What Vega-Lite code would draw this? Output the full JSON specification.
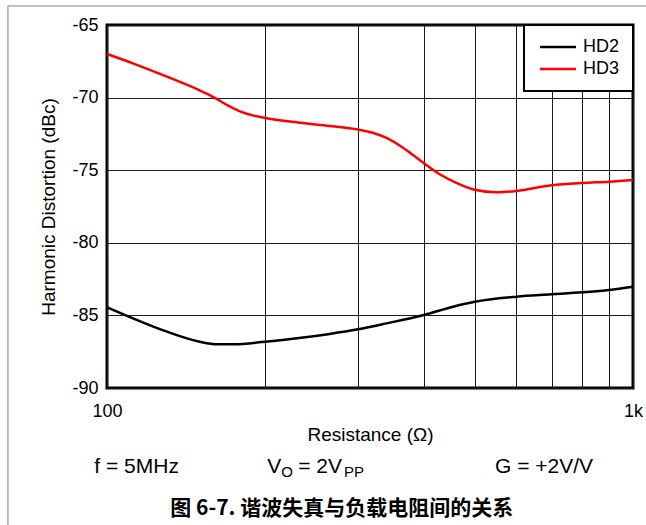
{
  "$schema": "https://vega.github.io/schema/vega-lite/v6.json",
  "width": 526,
  "height": 363,
  "autosize": {"type": "none"},
  "padding": {"left": 107, "top": 25, "right": 13, "bottom": 137},
  "background": "#ffffff",
  "config": {
    "font": "Liberation Sans",
    "view": {"stroke": "#000000", "strokeWidth": 3},
    "axis": {"labelColor": "#000000", "titleColor": "#000000", "titleFontWeight": "normal", "domain": false, "ticks": false, "tickSize": 0, "gridColor": "#1a1a1a", "gridWidth": 1, "gridOpacity": 1},
    "legend": {"strokeWidth": 2}
  },
  "layer": [
    {
      "data": {"values": [
        {"R": 100, "dB": -84.44, "s": "HD2"},
        {"R": 112, "dB": -85.2, "s": "HD2"},
        {"R": 130, "dB": -86.12, "s": "HD2"},
        {"R": 150, "dB": -86.81, "s": "HD2"},
        {"R": 162, "dB": -86.99, "s": "HD2"},
        {"R": 174, "dB": -86.99, "s": "HD2"},
        {"R": 200, "dB": -86.81, "s": "HD2"},
        {"R": 265, "dB": -86.28, "s": "HD2"},
        {"R": 300, "dB": -85.96, "s": "HD2"},
        {"R": 340, "dB": -85.55, "s": "HD2"},
        {"R": 400, "dB": -84.97, "s": "HD2"},
        {"R": 455, "dB": -84.4, "s": "HD2"},
        {"R": 500, "dB": -84.06, "s": "HD2"},
        {"R": 600, "dB": -83.71, "s": "HD2"},
        {"R": 700, "dB": -83.55, "s": "HD2"},
        {"R": 800, "dB": -83.41, "s": "HD2"},
        {"R": 900, "dB": -83.25, "s": "HD2"},
        {"R": 1000, "dB": -83.02, "s": "HD2"},
        {"R": 100, "dB": -67.0, "s": "HD3"},
        {"R": 112, "dB": -67.64, "s": "HD3"},
        {"R": 130, "dB": -68.56, "s": "HD3"},
        {"R": 150, "dB": -69.5, "s": "HD3"},
        {"R": 160, "dB": -70.0, "s": "HD3"},
        {"R": 170, "dB": -70.55, "s": "HD3"},
        {"R": 180, "dB": -70.98, "s": "HD3"},
        {"R": 190, "dB": -71.24, "s": "HD3"},
        {"R": 200, "dB": -71.4, "s": "HD3"},
        {"R": 233, "dB": -71.73, "s": "HD3"},
        {"R": 265, "dB": -71.95, "s": "HD3"},
        {"R": 300, "dB": -72.2, "s": "HD3"},
        {"R": 320, "dB": -72.42, "s": "HD3"},
        {"R": 340, "dB": -72.78, "s": "HD3"},
        {"R": 360, "dB": -73.3, "s": "HD3"},
        {"R": 380, "dB": -73.9, "s": "HD3"},
        {"R": 400, "dB": -74.5, "s": "HD3"},
        {"R": 430, "dB": -75.3, "s": "HD3"},
        {"R": 460, "dB": -75.85, "s": "HD3"},
        {"R": 500, "dB": -76.35, "s": "HD3"},
        {"R": 550, "dB": -76.52, "s": "HD3"},
        {"R": 600, "dB": -76.43, "s": "HD3"},
        {"R": 700, "dB": -76.04, "s": "HD3"},
        {"R": 800, "dB": -75.88, "s": "HD3"},
        {"R": 900, "dB": -75.79, "s": "HD3"},
        {"R": 1000, "dB": -75.68, "s": "HD3"}
      ]},
      "mark": {"type": "line", "strokeWidth": 2.5, "interpolate": "monotone"},
      "encoding": {
        "x": {"field": "R", "type": "quantitative",
          "scale": {"type": "log", "domain": [100, 1000], "nice": false},
          "axis": {"title": "Resistance (Ω)", "titleFontSize": 19, "titlePadding": 5,
            "values": [100, 200, 300, 400, 500, 600, 700, 800, 900, 1000],
            "labelExpr": "datum.value == 100 ? '100' : (datum.value == 1000 ? '1k' : '')",
            "labelFontSize": 18, "labelPadding": 14, "labelFlush": false, "labelOverlap": false, "grid": true}},
        "y": {"field": "dB", "type": "quantitative",
          "scale": {"domain": [-90, -65], "nice": false, "zero": false},
          "axis": {"title": "Harmonic Distortion (dBc)", "titleFontSize": 19, "titlePadding": 13,
            "values": [-90, -85, -80, -75, -70, -65], "labelExpr": "datum.value + ''",
            "labelFontSize": 18, "labelPadding": 9, "grid": true}},
        "color": {"field": "s", "type": "nominal",
          "scale": {"domain": ["HD2", "HD3"], "range": ["#000000", "#ff0000"]},
          "legend": {"title": null, "orient": "top-right", "offset": 0, "padding": 13,
            "strokeColor": "#000000", "fillColor": "#ffffff",
            "labelFontSize": 18, "labelColor": "#000000", "labelOffset": 28,
            "symbolType": "M-1,0H5", "symbolSize": 144, "symbolStrokeWidth": 2.5, "rowPadding": 4}}
      }
    },
    {
      "data": {"values": [{"label": "frame"}]},
      "mark": {"type": "rule", "color": "#808080", "strokeWidth": 1},
      "encoding": {"x": {"datum": 64.81}, "y": {"datum": -63.69}, "y2": {"datum": -101}}
    },
    {
      "data": {"values": [{"label": "frame"}]},
      "mark": {"type": "rule", "color": "#808080", "strokeWidth": 1},
      "encoding": {"x": {"datum": 64.81}, "x2": {"datum": 1100}, "y": {"datum": -63.69}}
    },
    {
      "data": {"values": [{"label": "f = 5MHz"}]},
      "mark": {"type": "text", "align": "left", "baseline": "alphabetic", "fontSize": 21, "color": "#000000"},
      "encoding": {"x": {"datum": 94.59}, "y": {"datum": -95.82}, "text": {"field": "label"}}
    },
    {
      "data": {"values": [{"label": "V"}]},
      "mark": {"type": "text", "align": "left", "baseline": "alphabetic", "fontSize": 21, "color": "#000000"},
      "encoding": {"x": {"datum": 201.7}, "y": {"datum": -95.82}, "text": {"field": "label"}}
    },
    {
      "data": {"values": [{"label": "O"}]},
      "mark": {"type": "text", "align": "left", "baseline": "alphabetic", "fontSize": 15, "color": "#000000"},
      "encoding": {"x": {"datum": 214.5}, "y": {"datum": -96.1}, "text": {"field": "label"}}
    },
    {
      "data": {"values": [{"label": "= 2V"}]},
      "mark": {"type": "text", "align": "left", "baseline": "alphabetic", "fontSize": 21, "color": "#000000"},
      "encoding": {"x": {"datum": 231.0}, "y": {"datum": -95.82}, "text": {"field": "label"}}
    },
    {
      "data": {"values": [{"label": "PP"}]},
      "mark": {"type": "text", "align": "left", "baseline": "alphabetic", "fontSize": 15, "color": "#000000"},
      "encoding": {"x": {"datum": 282.2}, "y": {"datum": -96.1}, "text": {"field": "label"}}
    },
    {
      "data": {"values": [{"label": "G = +2V/V"}]},
      "mark": {"type": "text", "align": "left", "baseline": "alphabetic", "fontSize": 21, "color": "#000000"},
      "encoding": {"x": {"datum": 546.7}, "y": {"datum": -95.82}, "text": {"field": "label"}}
    },
    {
      "data": {"values": [{"label": "图 6-7. 谐波失真与负载电阻间的关系"}]},
      "mark": {"type": "text", "align": "center", "baseline": "middle", "fontSize": 21, "fontWeight": "bold", "font": "Noto Sans CJK SC", "color": "#000000"},
      "encoding": {"x": {"datum": 279.4}, "y": {"datum": -98.3}, "text": {"field": "label"}}
    }
  ]
}
